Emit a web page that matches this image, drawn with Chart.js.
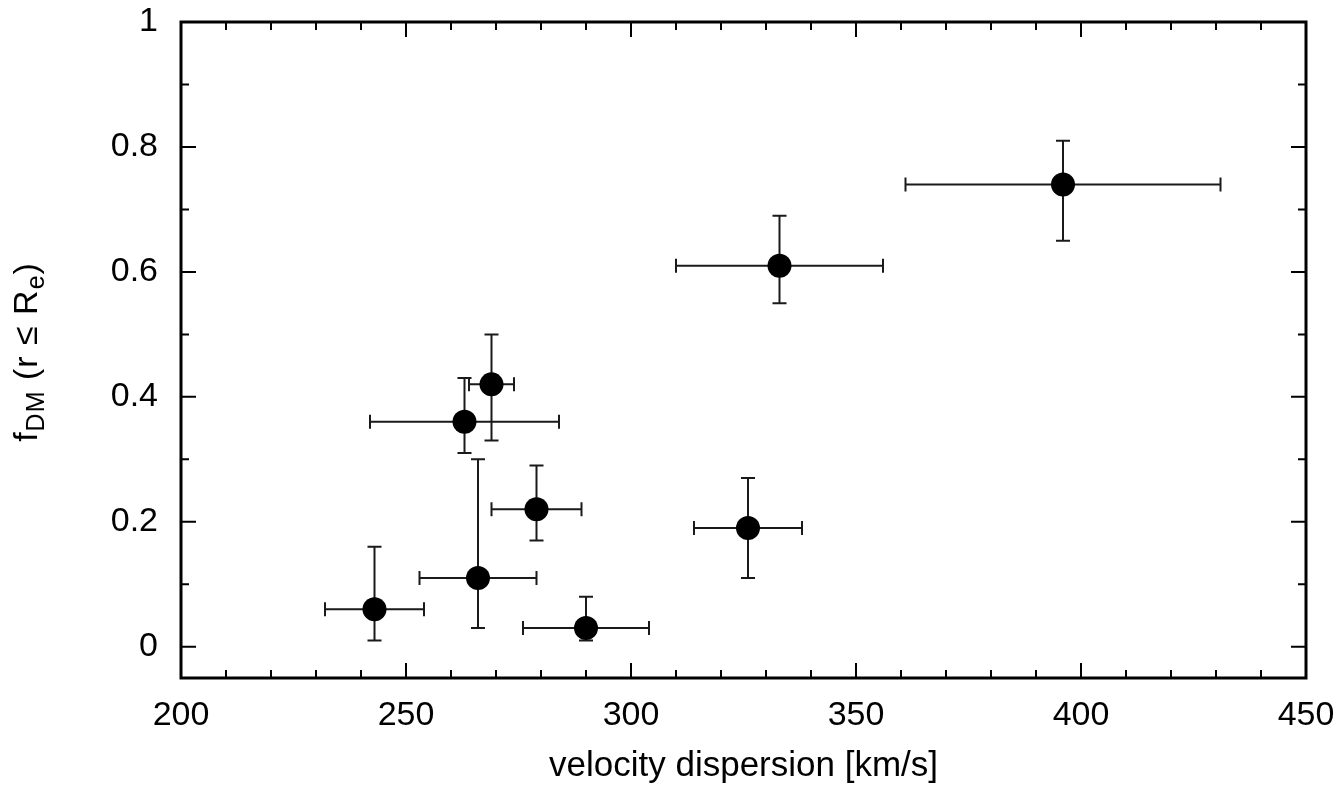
<!DOCTYPE html>
<html><head><meta charset="utf-8">
<script src="https://cdn.jsdelivr.net/npm/chart.js@4.4.1/dist/chart.umd.min.js"></script>
<style>html,body{margin:0;padding:0;background:#fff;} #wrap{width:1344px;height:788px;}</style>
</head><body><div id="wrap"><canvas id="c" width="1344" height="788"></canvas></div>
<script>
// Data
const sigma     = [243, 266, 263, 269, 279, 290, 326, 333, 396];   // velocity dispersion [km/s]
const fDM       = [0.06, 0.11, 0.36, 0.42, 0.22, 0.03, 0.19, 0.61, 0.74];
const sigmaLow  = [232, 253, 242, 264, 269, 276, 314, 310, 361];
const sigmaHigh = [254, 279, 284, 274, 289, 304, 338, 356, 431];
const fDMLow    = [0.01, 0.03, 0.31, 0.33, 0.17, 0.01, 0.11, 0.55, 0.65];
const fDMHigh   = [0.16, 0.30, 0.43, 0.50, 0.29, 0.08, 0.27, 0.69, 0.81];
const xTicks = [200, 250, 300, 350, 400, 450];
const yTicks = [0, 0.2, 0.4, 0.6, 0.8, 1];
const xMinorTicks = [210,220,230,240,260,270,280,290,310,320,330,340,360,370,380,390,410,420,430,440];
const yMinorTicks = [0.1, 0.3, 0.5, 0.7, 0.9];
const xTitle = 'velocity dispersion [km/s]';

const FONT = "'Liberation Sans', Arial, Helvetica, sans-serif";

const points = sigma.map((x, i) => ({x: x, y: fDM[i]}));

const errorBars = {
  id: 'errorBars',
  beforeDatasetsDraw(chart) {
    const {ctx, scales: {x, y}} = chart;
    ctx.save();
    ctx.strokeStyle = '#1a1a1a';
    ctx.lineWidth = 2;
    const cap = 7;
    for (let i = 0; i < sigma.length; i++) {
      const px = x.getPixelForValue(sigma[i]);
      const py = y.getPixelForValue(fDM[i]);
      const xl = x.getPixelForValue(sigmaLow[i]);
      const xh = x.getPixelForValue(sigmaHigh[i]);
      const yl = y.getPixelForValue(fDMLow[i]);
      const yh = y.getPixelForValue(fDMHigh[i]);
      ctx.beginPath();
      ctx.moveTo(xl, py); ctx.lineTo(xh, py);
      ctx.moveTo(xl, py - cap); ctx.lineTo(xl, py + cap);
      ctx.moveTo(xh, py - cap); ctx.lineTo(xh, py + cap);
      ctx.moveTo(px, yl); ctx.lineTo(px, yh);
      ctx.moveTo(px - cap, yl); ctx.lineTo(px + cap, yl);
      ctx.moveTo(px - cap, yh); ctx.lineTo(px + cap, yh);
      ctx.stroke();
    }
    ctx.restore();
  }
};

const frame = {
  id: 'frame',
  afterDatasetsDraw(chart) {
    const {ctx, chartArea: a, scales: {x, y}} = chart;
    ctx.save();
    ctx.strokeStyle = '#000';
    ctx.lineWidth = 2;
    ctx.beginPath();
    const majorL = 15, minorL = 8;
    const xt = (v, L) => {
      const p = x.getPixelForValue(v);
      ctx.moveTo(p, a.bottom); ctx.lineTo(p, a.bottom - L);
      ctx.moveTo(p, a.top); ctx.lineTo(p, a.top + L);
    };
    const yt = (v, L) => {
      const p = y.getPixelForValue(v);
      ctx.moveTo(a.left, p); ctx.lineTo(a.left + L, p);
      ctx.moveTo(a.right, p); ctx.lineTo(a.right - L, p);
    };
    xTicks.forEach(v => xt(v, majorL));
    xMinorTicks.forEach(v => xt(v, minorL));
    yTicks.forEach(v => yt(v, majorL));
    yMinorTicks.forEach(v => yt(v, minorL));
    ctx.stroke();
    ctx.lineWidth = 3;
    ctx.strokeRect(a.left, a.top, a.right - a.left, a.bottom - a.top);
    ctx.restore();
  },
  afterDraw(chart) {
    const {ctx} = chart;
    const pieces = [
      {t: 'f', s: 34, sub: false},
      {t: 'DM', s: 25, sub: true},
      {t: ' (r \u2264 R', s: 34, sub: false},
      {t: 'e', s: 25, sub: true},
      {t: ')', s: 34, sub: false}
    ];
    ctx.save();
    ctx.fillStyle = '#000';
    ctx.textBaseline = 'alphabetic';
    ctx.textAlign = 'left';
    if ('letterSpacing' in ctx) ctx.letterSpacing = '1px';
    let total = 0;
    pieces.forEach(p => { ctx.font = p.s + 'px ' + FONT; p.w = ctx.measureText(p.t).width; total += p.w; });
    ctx.translate(37, 352);
    ctx.rotate(-Math.PI / 2);
    let cx = -total / 2;
    pieces.forEach(p => {
      ctx.font = p.s + 'px ' + FONT;
      ctx.fillText(p.t, cx, p.sub ? 7 : 0);
      cx += p.w;
    });
    ctx.restore();
  }
};

new Chart(document.getElementById('c'), {
  type: 'scatter',
  data: {
    datasets: [{
      data: points,
      backgroundColor: '#000',
      borderColor: '#000',
      pointRadius: 12,
      pointHoverRadius: 12,
      pointBorderWidth: 0
    }]
  },
  options: {
    responsive: false,
    animation: false,
    devicePixelRatio: 1,
    layout: {padding: {top: 22, right: 38, left: 0, bottom: 0}},
    plugins: {legend: {display: false}, tooltip: {enabled: false}},
    scales: {
      x: {
        type: 'linear', min: 200, max: 450,
        afterBuildTicks: s => { s.ticks = xTicks.map(v => ({value: v})); },
        afterFit: s => { s.height = 110; s.paddingLeft = 0; s.paddingRight = 0; },
        grid: {display: false, drawTicks: false},
        border: {display: false},
        ticks: {font: {size: 34, family: FONT}, color: '#000', padding: 17, maxRotation: 0, autoSkip: false},
        title: {display: true, text: xTitle, color: '#000', font: {size: 35, family: FONT}, padding: {top: 0, bottom: 1}}
      },
      y: {
        type: 'linear', min: -0.05, max: 1,
        afterBuildTicks: s => { s.ticks = yTicks.map(v => ({value: v})); },
        afterFit: s => { s.width = 181; s.paddingTop = 0; s.paddingBottom = 0; },
        grid: {display: false, drawTicks: false},
        border: {display: false},
        ticks: {font: {size: 34, family: FONT}, color: '#000', padding: 23, autoSkip: false,
                callback: v => String(v)}
      }
    }
  },
  plugins: [errorBars, frame]
});
</script></body></html>
